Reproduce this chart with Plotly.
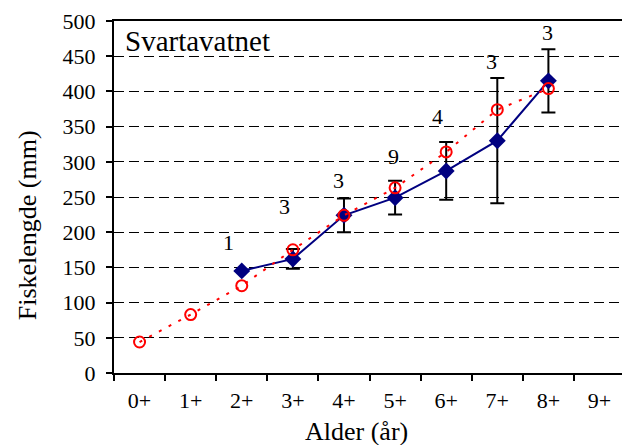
import plotly.graph_objects as go

# ---- data ----
ages = ["0+", "1+", "2+", "3+", "4+", "5+", "6+", "7+", "8+", "9+"]
measured_ages = ["2+", "3+", "4+", "5+", "6+", "7+", "8+"]
measured_mean = [145, 162, 224, 249, 287, 330, 415]
measured_sd = [None, 14, 24, 24, 41, 89, 45]
sample_n = ["1", "3", "3", "9", "4", "3", "3"]
label_y = [185, 237, 274, 307, 364, 442, 483]
backcalc_ages = ["0+", "1+", "2+", "3+", "4+", "5+", "6+", "7+", "8+"]
backcalc_len = [44, 83, 124, 175, 224, 263, 314, 374, 404]
y_ticks = [0, 50, 100, 150, 200, 250, 300, 350, 400, 450, 500]

FONT = "'Liberation Serif', 'Times New Roman', Times, serif"

fig = go.Figure()

fig.add_trace(go.Scatter(
    x=measured_ages, y=measured_mean, mode="lines+markers",
    line=dict(color="#000080", width=2),
    marker=dict(symbol="diamond", size=13, color="#000080"),
    error_y=dict(type="data", array=measured_sd, visible=True,
                 color="black", thickness=2, width=7),
    showlegend=False,
))

fig.add_trace(go.Scatter(
    x=backcalc_ages, y=backcalc_len, mode="lines+markers",
    line=dict(color="red", width=2, dash="3px,8px"),
    marker=dict(symbol="circle-open", size=11, color="red",
                line=dict(color="red", width=2)),
    showlegend=False,
))

label_xshift = [-13, -8, -5, -2, -9, -6, -1]
for a, n, ly, dx in zip(measured_ages, sample_n, label_y, label_xshift):
    fig.add_annotation(x=a, y=ly, text=n, showarrow=False, xshift=dx,
                       font=dict(family=FONT, size=22, color="black"))

fig.add_annotation(xref="paper", yref="paper", x=0.018, y=0.943,
                   xanchor="left", yanchor="middle", text="Svartavatnet",
                   showarrow=False, font=dict(family=FONT, size=29, color="black"))
fig.add_annotation(xref="paper", yref="paper", x=-0.171, y=0.42,
                   xanchor="center", yanchor="middle",
                   textangle=-90, text="Fiskelengde (mm)", showarrow=False,
                   font=dict(family=FONT, size=26, color="black"))
fig.add_annotation(xref="paper", yref="paper", x=0.478, y=-0.165,
                   xanchor="center", yanchor="middle", text="Alder (år)",
                   showarrow=False,
                   font=dict(family=FONT, size=26, color="black"))

fig.update_xaxes(
    type="category", categoryorder="array", categoryarray=ages,
    range=[-0.5, 9.44], tickson="boundaries", ticks="outside", ticklen=6,
    tickwidth=2, tickcolor="black", showline=True, linecolor="black",
    linewidth=2, mirror=True, showgrid=False, zeroline=False,
    tickfont=dict(family=FONT, size=22, color="black"), ticklabelstandoff=7,
)
fig.update_yaxes(
    range=[0, 500], tickvals=y_ticks, ticks="outside", ticklen=6,
    tickwidth=2, tickcolor="black", showline=True, linecolor="black",
    linewidth=2, showgrid=True, gridcolor="black", gridwidth=1,
    griddash="10px,5px", zeroline=False,
    tickfont=dict(family=FONT, size=22, color="black"), ticklabelstandoff=6,
)

fig.update_layout(
    width=622, height=445,
    margin=dict(l=114, r=0, t=21, b=72),
    plot_bgcolor="white", paper_bgcolor="white",
    font=dict(family=FONT),
)

fig.write_html("out.html")
